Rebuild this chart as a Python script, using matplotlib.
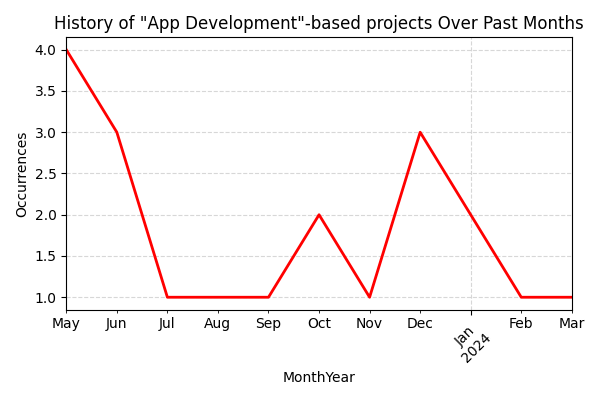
import pandas as pd
import matplotlib
matplotlib.use('Agg')
import matplotlib.pyplot as plt

months = ['2023-05', '2023-06', '2023-07', '2023-08', '2023-09', '2023-10',
          '2023-11', '2023-12', '2024-01', '2024-02', '2024-03']
occurrences = [4, 3, 1, 1, 1, 2, 1, 3, 2, 1, 1]

s = pd.Series(occurrences, index=pd.PeriodIndex(months, freq='M'))
s.index.name = 'MonthYear'

fig, ax = plt.subplots(figsize=(6, 4), dpi=100)
s.plot(ax=ax, color='red', linewidth=2)
ax.set_title('History of "App Development"-based projects Over Past Months')
ax.set_xlabel('MonthYear')
ax.set_ylabel('Occurrences')
ax.grid(True, linestyle='--', alpha=0.5)
plt.xticks(rotation=45)
plt.tight_layout()
fig.savefig('out.png')
